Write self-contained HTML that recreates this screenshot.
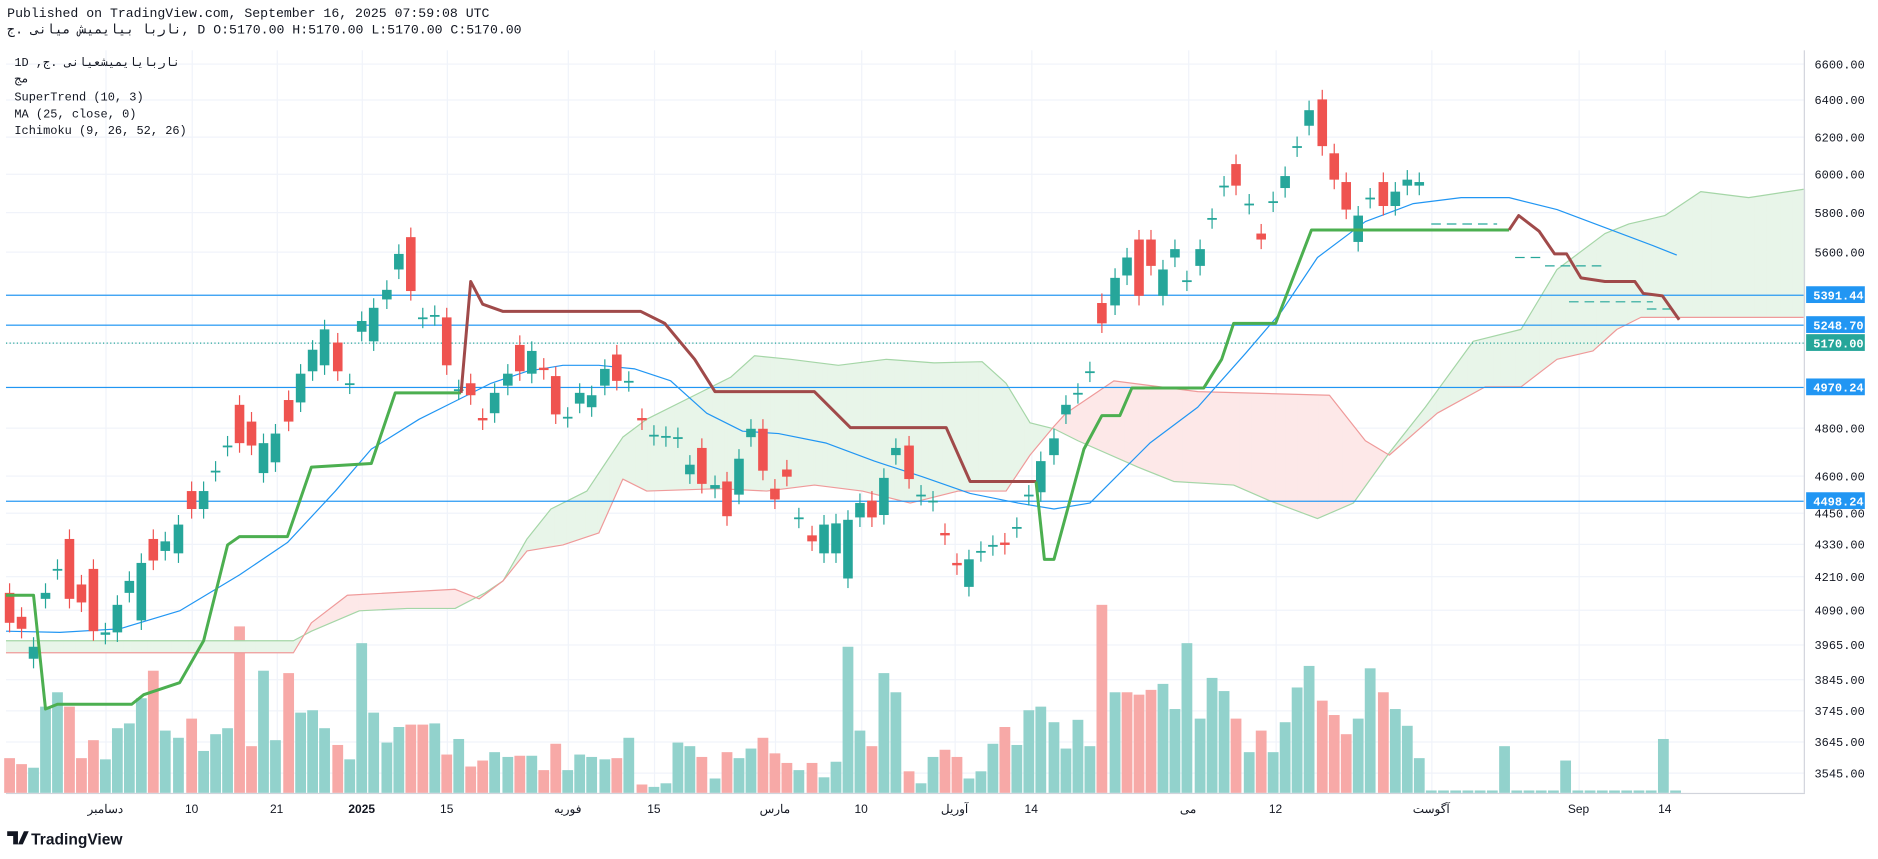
<!DOCTYPE html>
<html><head><meta charset="utf-8"><style>
body{margin:0;background:#fff;width:1878px;height:858px;overflow:hidden;font-family:"Liberation Mono","DejaVu Sans Mono","Noto Sans CJK SC",monospace}
#wrap{position:absolute;left:0;top:0;width:1568px;height:717px;transform:scale(1.19770);transform-origin:0 0}
#hdr{position:absolute;left:6px;top:5px;font-size:11px;line-height:14px;color:#131722}
</style></head><body>
<div id="wrap">
<div id="hdr">Published on TradingView.com, September 16, 2025 07:59:08 UTC<br>ناربا بیایمیش میانی .ج, D O:5170.00 H:5170.00 L:5170.00 C:5170.00</div>
<svg id="s" width="1568" height="717" style="position:absolute;left:0;top:0"></svg>
</div>
<script>
const S=document.getElementById('s');let h='';
const R=(x,y,w,hh,f,o)=>h+=`<rect x="${x}" y="${y}" width="${w}" height="${hh}" fill="${f}"${o?` opacity="${o}"`:''}/>`;
const T=(x,y,t,o)=>h+=`<text x="${x}" y="${y}" ${o||''}>${t}</text>`;
const ys=[53,83,114,145,177,210,246,286,323,357,397,428,454,481,509,538,567,593,619,645];
ys.forEach(y=>R(5,y,1501,1,'#f0f3fa'));
[88,160,231,302,373,474,546,647,719,797,861,992,1065,1195,1318,1390].forEach(x=>R(x,42,1,620,'#f0f3fa'));
const V=[[8,633,0],[18,638,0],[28,641,1],[38,590,1],[48,578,1],[58,590,0],[68,633,0],[78,618,0],[88,634,1],[98,608,1],[108,604,1],[118,583,1],[128,560,0],[138,610,1],[149,616,1],[160,600,0],[170,627,1],[180,613,1],[190,608,1],[200,523,0],[210,623,0],[220,560,1],[230,618,1],[241,562,0],[251,595,1],[261,593,1],[271,608,1],[282,622,0],[292,634,1],[302,537,1],[312,595,1],[323,620,1],[333,607,1],[343,605,0],[353,605,0],[363,604,1],[373,630,0],[383,617,1],[393,640,0],[403,635,0],[413,628,1],[424,632,1],[434,631,0],[444,631,1],[454,643,0],[464,621,0],[474,643,1],[484,630,1],[494,632,1],[505,634,1],[515,633,0],[525,616,1],[536,655,0],[546,657,1],[556,654,1],[566,620,1],[576,623,1],[586,632,0],[597,650,1],[607,628,0],[617,633,1],[627,625,1],[637,616,0],[647,629,0],[657,637,0],[667,643,1],[678,637,0],[688,649,1],[698,636,1],[708,540,1],[718,610,1],[728,623,0],[738,562,1],[748,578,1],[759,644,0],[769,654,1],[779,632,1],[789,626,0],[799,632,0],[809,650,1],[819,644,1],[829,621,1],[839,607,0],[849,622,1],[859,593,1],[869,590,1],[880,603,1],[890,625,1],[900,601,1],[910,623,1],[920,505,0],[931,578,1],[941,578,0],[951,580,0],[961,576,0],[971,571,1],[981,592,1],[991,537,1],[1002,600,1],[1012,566,1],[1022,577,1],[1032,600,0],[1043,628,1],[1053,610,0],[1063,628,1],[1073,603,1],[1083,574,1],[1093,556,1],[1104,585,0],[1114,597,0],[1124,613,0],[1134,600,1],[1144,558,1],[1155,578,0],[1165,592,1],[1175,606,1],[1185,633,1]];
V.forEach(v=>R(v[0]-4.5,v[1],9,662-v[1],v[2]?'#92d2cc':'#f7a9a7'));
for(let x=1195;x<=1400;x+=10.2){let t=660;if(Math.abs(x-1257)<5)t=623;if(Math.abs(x-1307)<5)t=635;if(Math.abs(x-1390)<5)t=617;R(x-4.5,t,9,662-t,'#92d2cc');}
const A=[[5,535],[245,535],[260,527],[300,510],[340,508],[380,508],[405,495],[420,485],[440,450],[460,425],[490,410],[510,380],[520,365],[540,350],[580,330],[610,315],[630,297],[660,300],[700,305],[740,300],[780,303],[820,302],[840,320],[860,353],[880,358],[900,368],[950,390],[980,402],[1030,405],[1060,418],[1100,433],[1130,420],[1160,378],[1190,340],[1230,285],[1270,275],[1300,225],[1340,195],[1360,187],[1390,180],[1420,160],[1460,165],[1506,158]];
const B=[[5,545],[245,545],[260,520],[290,497],[380,492],[400,500],[420,485],[440,460],[470,455],[500,445],[520,400],[540,410],[600,408],[640,410],[680,405],[720,410],[760,420],[800,410],[840,410],[860,380],[880,356],[890,345],[930,318],[1000,327],[1110,330],[1140,368],[1160,380],[1200,345],[1240,323],[1270,323],[1300,300],[1330,293],[1350,275],[1370,265],[1506,265]];
const I=(P,x)=>{for(let i=1;i<P.length;i++)if(x<=P[i][0]){const a=P[i-1],b=P[i];return a[1]+(b[1]-a[1])*(x-a[0])/(b[0]-a[0]);}return P[P.length-1][1];};
for(let x=5;x<1506;x+=2){const a=I(A,x),b=I(B,x),a2=I(A,x+2),b2=I(B,x+2);h+=`<polygon points="${x},${a} ${x+2.3},${a2} ${x+2.3},${b2} ${x},${b}" fill="${a<b?'#e8f5e9':'#fde8e8'}"/>`;}
const PL=(P,c,w)=>h+=`<polyline points="${P.map(p=>p.join(',')).join(' ')}" fill="none" stroke="${c}" stroke-width="${w}" stroke-linejoin="round"/>`;
PL(A,'#a5d6a7',1);PL(B,'#ef9a9a',1);
[[246,'#2196f3'],[271,'#2196f3'],[323,'#2196f3'],[418,'#2196f3']].forEach(l=>R(5,l[0],1501,1,l[1]));
h+=`<line x1="5" y1="286.5" x2="1506" y2="286.5" stroke="#26a69a" stroke-dasharray="1,2"/>`;
PL([[5,527],[50,528],[100,525],[150,510],[200,480],[240,453],[280,410],[310,375],[350,350],[380,335],[410,320],[440,310],[470,305],[500,305],[530,308],[560,318],[590,345],[620,360],[650,362],[690,370],[730,385],[770,398],[810,412],[850,420],[880,425],[910,420],[930,400],[960,370],[1000,340],[1040,295],[1070,260],[1100,215],[1140,185],[1180,170],[1220,165],[1260,165],[1300,175],[1340,190],[1380,205],[1400,213]],'#2196f3',1);
const C=[[8,495,520,0],[18,515,525,0],[28,540,550,1],[38,495,500,1],[48,475,476,1],[58,450,500,0],[68,488,503,0],[78,475,527,0],[88,528,530,1],[98,505,528,1],[108,485,495,1],[118,470,518,1],[128,450,468,0],[138,452,460,1],[149,438,462,1],[160,410,425,0],[170,410,425,1],[180,393,394,1],[190,372,373,1],[200,338,370,0],[210,352,372,0],[220,370,395,1],[230,362,386,1],[241,334,352,0],[251,312,336,1],[261,292,310,1],[271,275,305,1],[282,286,310,0],[292,320,321,1],[302,268,277,1],[312,257,285,1],[323,242,250,1],[333,212,225,1],[343,198,243,0],[353,265,266,1],[363,263,264,1],[373,265,305,0],[383,325,326,1],[393,320,330,0],[403,349,351,0],[413,328,345,1],[424,312,322,1],[434,288,310,0],[444,293,312,1],[454,307,309,0],[464,314,346,0],[474,348,349,1],[484,328,337,1],[494,330,340,1],[505,308,322,1],[515,296,318,0],[525,318,319,1],[536,349,351,0],[546,363,364,1],[556,364,365,1],[566,365,366,1],[576,388,396,1],[586,374,404,0],[597,405,408,1],[607,402,431,0],[617,383,413,1],[627,358,365,1],[637,358,393,0],[647,408,417,0],[657,392,398,0],[667,432,433,1],[678,447,452,0],[688,438,462,1],[698,437,462,1],[708,434,483,1],[718,420,432,1],[728,418,432,0],[738,399,430,1],[748,374,380,1],[759,372,400,0],[769,413,414,1],[779,418,419,1],[789,445,447,0],[799,470,472,0],[809,467,490,1],[819,460,461,1],[829,455,456,1],[839,453,455,0],[849,440,441,1],[859,413,414,1],[869,385,411,1],[880,366,380,1],[890,338,346,1],[900,328,329,1],[910,310,311,1],[920,253,270,0],[931,232,255,1],[941,215,230,1],[951,200,247,0],[961,200,222,0],[971,225,247,1],[981,208,215,1],[991,234,235,1],[1002,208,222,1],[1012,182,183,1],[1022,155,156,1],[1032,137,155,0],[1043,170,171,1],[1053,195,200,0],[1063,168,169,1],[1073,147,157,1],[1083,122,123,1],[1093,92,105,1],[1104,83,122,0],[1114,128,150,0],[1124,152,175,0],[1134,180,202,1],[1144,165,166,1],[1155,152,172,0],[1165,160,172,1],[1175,150,155,1],[1185,152,155,1]];
C.forEach(c=>{const col=c[3]?'#26a69a':'#ef5350';const t=Math.min(c[1],c[2]),b=Math.max(c[1],c[2]);R(c[0]-0.5,t-8,1,b-t+16,col);R(c[0]-4,t,8,Math.max(b-t,1.5),col);});
[[1195,1250,187],[1265,1290,215],[1290,1340,222],[1310,1380,252],[1375,1395,258]].forEach(d=>h+=`<line x1="${d[0]}" y1="${d[2]}" x2="${d[1]}" y2="${d[2]}" stroke="#26a69a" stroke-dasharray="8,5"/>`);
PL([[5,497],[28,497],[38,592],[48,588],[110,588],[120,580],[150,570],[170,535],[190,455],[200,448],[240,448],[260,390],[310,387],[330,328],[385,328]],'#4caf50',2.5);
PL([[385,328],[393,235],[403,254],[420,260],[535,260],[555,270],[580,300],[597,327],[680,327],[710,357],[790,357],[810,402],[865,402]],'#a04a4a',2.5);
PL([[865,402],[872,467],[880,467],[905,375],[920,347],[935,347],[945,324],[1005,324],[1020,300],[1030,270],[1065,270],[1095,192],[1260,192]],'#4caf50',2.5);
PL([[1260,192],[1268,180],[1285,193],[1298,212],[1308,212],[1320,232],[1340,235],[1365,235],[1372,245],[1388,247],[1402,267]],'#a04a4a',2.5);
R(1506,42,1,620,'#d1d4dc');R(5,662,1502,1,'#d1d4dc');
h+='<g font-size="10" fill="#131722" font-family="Liberation Mono,monospace">';
[[53,'6600.00'],[83,'6400.00'],[114,'6200.00'],[145,'6000.00'],[177,'5800.00'],[210,'5600.00'],[357,'4800.00'],[397,'4600.00'],[428,'4450.00'],[454,'4330.00'],[481,'4210.00'],[509,'4090.00'],[538,'3965.00'],[567,'3845.00'],[593,'3745.00'],[619,'3645.00'],[645,'3545.00']].forEach(l=>T(1515,l[0]+4,l[1]));
[[246,'5391.44','#2196f3'],[271,'5248.70','#2196f3'],[286,'5170.00','#26a69a'],[323,'4970.24','#2196f3'],[418,'4498.24','#2196f3']].forEach(l=>{R(1508,l[0]-7,49,14,l[2]);T(1514,l[0]+4,l[1],'fill="#fff" font-weight="bold"');});
[[88,'دسامبر'],[160,'10'],[231,'21'],[302,'2025'],[373,'15'],[474,'فوریه'],[546,'15'],[647,'مارس'],[719,'10'],[797,'آوریل'],[861,'14'],[992,'می'],[1065,'12'],[1195,'آگوست'],[1318,'Sep'],[1390,'14']].forEach(l=>T(l[0],679,l[1],'text-anchor="middle" font-family="Liberation Sans,Noto Sans CJK SC,sans-serif"'+(l[1]=='2025'?' font-weight="bold"':'')));
h+='</g><g font-size="10" fill="#131722">';
T(12,55,'1D ,ناربایایمیشعیانی .ج');T(12,69,'مج');T(12,84,'SuperTrend (10, 3)');T(12,98,'MA (25, close, 0)');T(12,112,'Ichimoku (9, 26, 52, 26)');
h+='</g>';
h+='<text x="26" y="705" font-family="Liberation Sans,sans-serif" font-size="13" font-weight="bold" fill="#131722">TradingView</text><path d="M6 694h9v11h-4v-7h-5z M15 705l5-11h4l-5 11z" fill="#131722"/>';
S.innerHTML=h;
</script>
</body></html>
